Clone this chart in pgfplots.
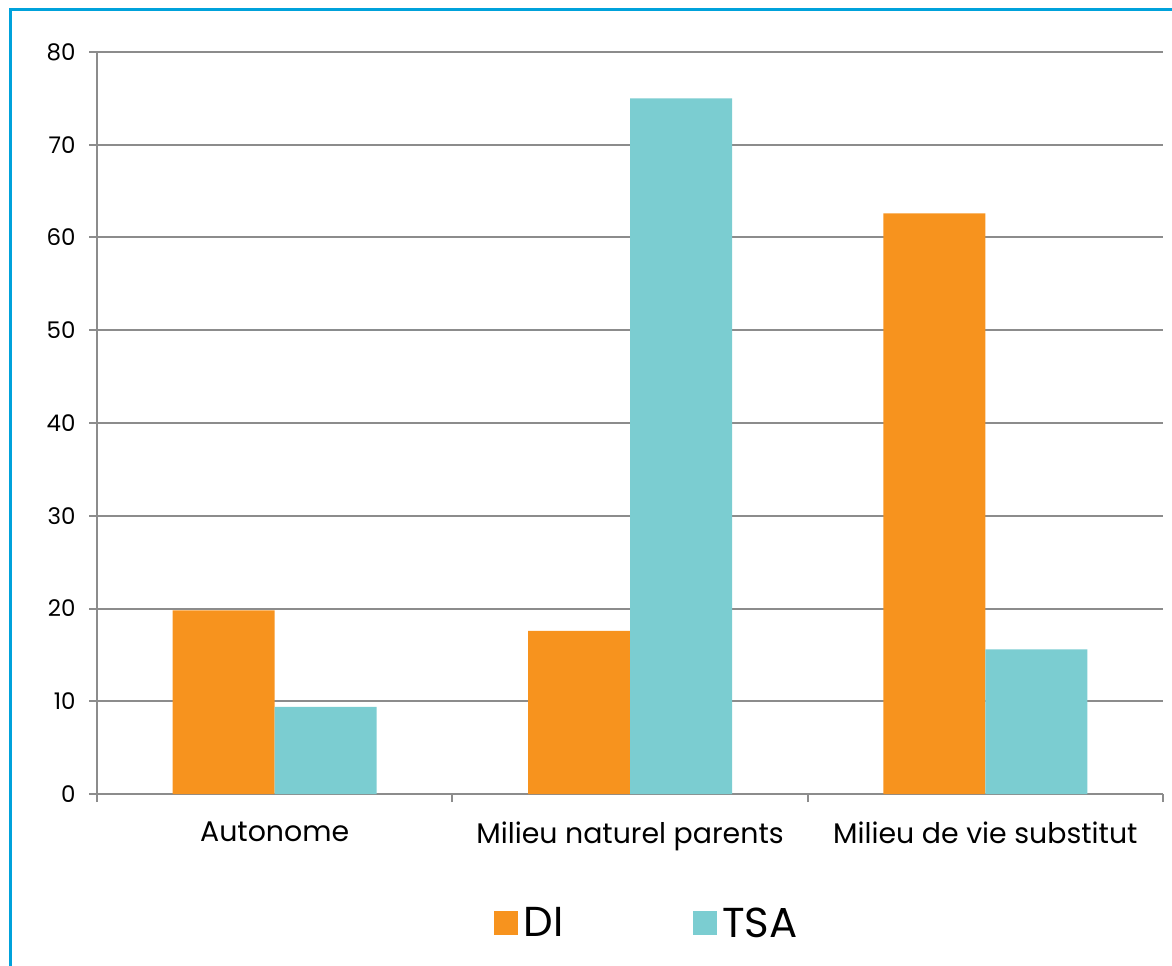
\documentclass[border=0pt]{standalone}
\usepackage{pgfplots}
\pgfplotsset{compat=1.18}
\usepackage{fontspec}
\setmainfont{Poppins}

\definecolor{diorange}{HTML}{F7931E}
\definecolor{tsateal}{HTML}{7BCDD1}
\definecolor{gridgray}{HTML}{8C8C8C}
\definecolor{framecyan}{HTML}{00A2DB}

\pgfplotsset{
  sqlegend/.style={legend image code/.code={\fill[##1] (0bp,-12bp) rectangle (24bp,12bp);}},
}

\begin{document}
\begin{tikzpicture}
\begin{axis}[
  name=ax,
  scale only axis,
  width=1066bp, height=742bp,
  xmin=-0.5, xmax=2.5,
  ymin=0, ymax=80,
  ybar=0pt, bar width=102bp,
  xtick={0,1,2},
  xticklabels={Autonome, Milieu naturel parents, Milieu de vie substitut},
  minor xtick={-0.5,0.5,1.5,2.5},
  ytick={0,10,...,80},
  ymajorgrids,
  grid style={draw=gridgray, line width=2bp},
  axis x line*=bottom, axis y line*=left,
  axis line style={-, draw=gridgray, line width=2bp},
  tick align=outside,
  major tick length=8bp, minor tick length=8bp,
  major x tick style={draw=none},
  minor x tick style={draw=gridgray, line width=2bp},
  major y tick style={draw=gridgray, line width=2bp},
  yticklabel style={font=\fontsize{23}{27}\selectfont, xshift=-10bp},
  xticklabel style={font=\fontsize{28.5}{34}\selectfont, yshift=-16bp},
  /pgf/number format/assume math mode=true,
  legend columns=2,
  legend style={draw=none, fill=none, at={(0.516,-0.174)}, anchor=center,
    font=\fontsize{42}{48}\selectfont,
    /tikz/every odd column/.append style={column sep=3bp},
    /tikz/every even column/.append style={column sep=128bp}},
]
\addplot[draw=none, fill=diorange, sqlegend] coordinates {(0,19.8) (1,17.6) (2,62.6)};
\addplot[draw=none, fill=tsateal, sqlegend] coordinates {(0,9.4) (1,75.0) (2,15.6)};
\legend{DI, TSA}
\end{axis}
\pgfresetboundingbox
\path[use as bounding box] ([shift={(-97bp,-171bp)}]ax.south west) rectangle ([shift={(9bp,52bp)}]ax.north east);
\draw[framecyan, line width=3bp] ([shift={(-86bp,-200bp)}]ax.south west) |- ([shift={(30bp,42bp)}]ax.north east);
\end{tikzpicture}
\end{document}
